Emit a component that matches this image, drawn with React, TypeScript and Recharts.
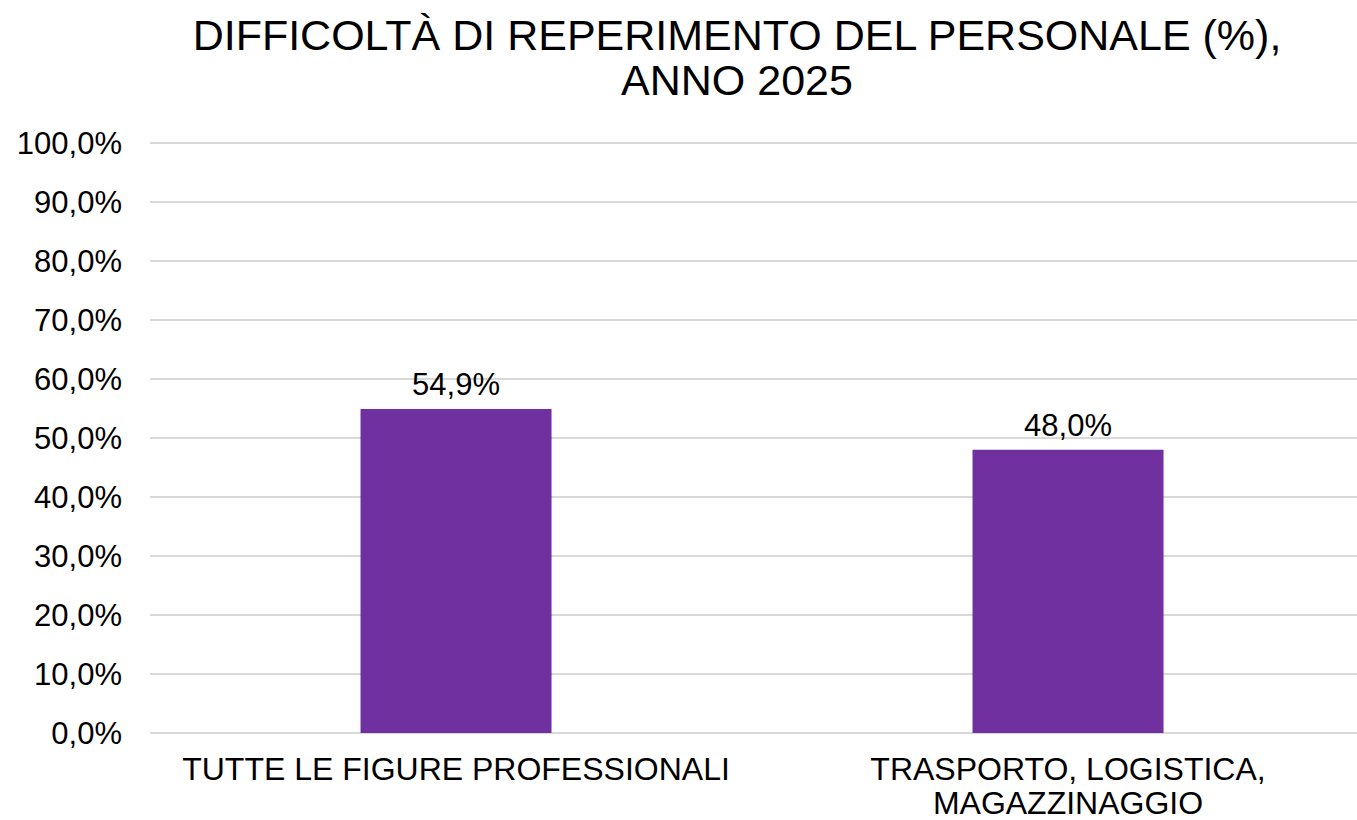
import { BarChart, Bar, XAxis, YAxis, CartesianGrid, LabelList } from 'recharts';

// Difficoltà di reperimento del personale, anno 2025
const categories = ['TUTTE LE FIGURE PROFESSIONALI', 'TRASPORTO, LOGISTICA, MAGAZZINAGGIO'];
const categoryLines = [['TUTTE LE FIGURE PROFESSIONALI'], ['TRASPORTO, LOGISTICA,', 'MAGAZZINAGGIO']];
const values = [54.9, 48.0];
const yTicks = [0, 10, 20, 30, 40, 50, 60, 70, 80, 90, 100];

const FONT = '"Liberation Sans", Arial, sans-serif';
const BAR_COLOR = '#7030A0';
const GRID_COLOR = '#d9d9d9';

const data = categories.map((name, i) => ({ name, value: values[i] }));

const pct = (v: number) => `${v.toFixed(1).replace('.', ',')}%`;

function CategoryTick({ x, y, payload, index }: any) {
  const lines = categoryLines[index] ?? [payload.value];
  return (
    <text x={x} y={y} textAnchor="middle" fontFamily={FONT} fontSize={32} fill="#000">
      {lines.map((l: string, i: number) => (
        <tspan key={i} x={x} dy={i === 0 ? 39 : 34}>
          {l}
        </tspan>
      ))}
    </text>
  );
}

export default function App() {
  return (
    <div
      style={{
        position: 'absolute',
        left: 0,
        top: 0,
        width: 1357,
        height: 820,
        overflow: 'hidden',
        background: '#fff',
        fontFamily: FONT,
      }}
    >
      <div
        style={{
          position: 'absolute',
          left: 0,
          top: 13,
          width: 1474,
          textAlign: 'center',
          fontSize: 43,
          lineHeight: '45px',
          color: '#000',
        }}
      >
        DIFFICOLTÀ DI REPERIMENTO DEL PERSONALE (%),
        <br />
        ANNO 2025
      </div>
      <div style={{ position: 'absolute', left: 0, top: 0 }}>
        <BarChart
          width={1374}
          height={820}
          data={data}
          margin={{ top: 143, right: 0, bottom: 0, left: 0 }}
          barCategoryGap="34.4%"
        >
          <CartesianGrid horizontal vertical={false} stroke={GRID_COLOR} strokeWidth={2} />
          <XAxis
            dataKey="name"
            axisLine={false}
            tickLine={false}
            tick={<CategoryTick />}
            interval={0}
            height={87}
          />
          <YAxis
            domain={[0, 100]}
            ticks={yTicks}
            interval={0}
            axisLine={false}
            tickLine={false}
            width={150}
            tickMargin={22}
            tickFormatter={pct}
            tick={{ fontFamily: FONT, fontSize: 31, fill: '#000' }}
          />
          <Bar dataKey="value" fill={BAR_COLOR} isAnimationActive={false}>
            <LabelList
              dataKey="value"
              position="top"
              offset={14}
              formatter={(v: any) => pct(Number(v))}
              style={{ fontFamily: FONT, fontSize: 31, fill: '#000' }}
            />
          </Bar>
        </BarChart>
      </div>
    </div>
  );
}
